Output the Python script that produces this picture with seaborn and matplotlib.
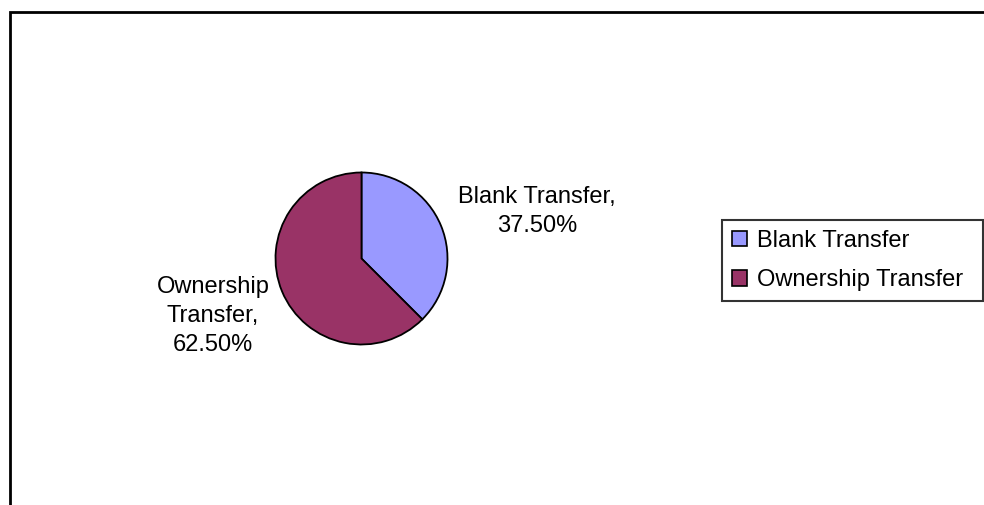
import matplotlib
matplotlib.use("Agg")
import matplotlib.pyplot as plt
from matplotlib.lines import Line2D
import seaborn as sns

# Transfer types and their shares (%)
categories = ["Blank Transfer", "Ownership Transfer"]
shares = [37.5, 62.5]
slice_colors = ["#9999FF", "#993366"]

sns.set_theme(style="white")
plt.rcParams["font.family"] = ["Liberation Sans", "DejaVu Sans"]
plt.rcParams["text.color"] = "black"

W, H = 984, 505
fig = plt.figure(figsize=(W / 100, H / 100), dpi=100)
fig.patch.set_facecolor("white")


def fx(px):
    return px / W


def fy(py):
    return 1 - py / H


# Outer chart-area frame (left and top edges visible)
fig.add_artist(Line2D([fx(9.5), fx(9.5), fx(W + 5)], [fy(H + 5), fy(11.5), fy(11.5)],
                      transform=fig.transFigure, color="black", lw=2.0,
                      solid_joinstyle="miter"))

# Pie axes: centre and radius in pixels
cx, cy, r = 361.5, 258.5, 86
ax = fig.add_axes([fx(cx - r), fy(cy + r), 2 * r / W, 2 * r / H])

wedges, _ = ax.pie(shares, colors=slice_colors, startangle=90, counterclock=False,
                   radius=1, wedgeprops=dict(edgecolor="black", linewidth=1.3))
ax.set_xlim(-1, 1)
ax.set_ylim(-1, 1)
ax.set_axis_off()

fs = 17
ax.text(2.04, 0.55, f"{categories[0]},\n{shares[0]:.2f}%", ha="center", va="center",
        fontsize=fs, linespacing=1.42, color="black", clip_on=False)
ax.text(-1.727, -0.669, "Ownership\nTransfer,\n" + f"{shares[1]:.2f}%", ha="center",
        va="center", fontsize=fs, linespacing=1.42, color="black", clip_on=False)

leg = fig.legend(wedges, categories, loc="upper left",
                 bbox_to_anchor=(fx(722), fy(301), fx(983) - fx(722), fy(220) - fy(301)),
                 mode="expand", borderaxespad=0, fontsize=fs, frameon=True,
                 fancybox=False, shadow=False, handlelength=0.62, handleheight=0.62,
                 handletextpad=0.45, labelspacing=0.74, borderpad=0.42)
leg.get_frame().set_edgecolor("black")
leg.get_frame().set_linewidth(1.5)
for t in leg.get_texts():
    t.set_color("black")
for h in leg.legend_handles:
    h.set_edgecolor("black")
    h.set_linewidth(1.2)

fig.savefig("out.png", dpi=100)
